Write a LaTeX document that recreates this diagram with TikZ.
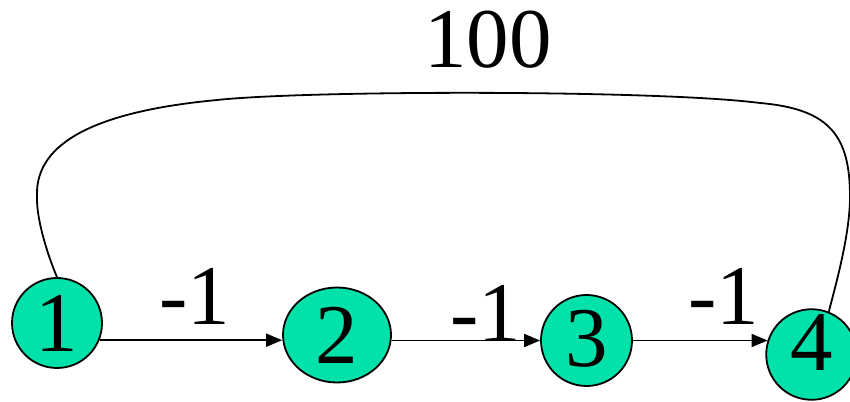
\documentclass[tikz,border=0pt]{standalone}
\usepackage{fontspec}
\setmainfont{Liberation Serif}
\usetikzlibrary{arrows.meta,shapes.geometric}
\definecolor{nodegreen}{RGB}{0,226,170}
\tikzset{
  vertex/.style={circle, draw=black, line width=1.8pt, fill=nodegreen, inner sep=0pt,
    font=\fontsize{85}{85}\selectfont},
  edge/.style={line width=1.8pt, -{Triangle[length=16pt,width=13pt]}},
  lbl/.style={anchor=base, inner sep=0pt, font=\fontsize{85}{85}\selectfont},
  bigcurve/.style={line width=1.8pt}
}
\begin{document}
\begin{tikzpicture}[x=1pt,y=1pt]
\useasboundingbox (0,0) rectangle (850,401);
\node[vertex, minimum size=90pt] (n1) at (57,78) {1};
\node[vertex, ellipse, minimum width=108pt, minimum height=95pt] (n2) at (337,66) {2};
\node[vertex, minimum size=91pt, text depth=5pt] (n3) at (586.5,60.5) {3};
\node[vertex, minimum size=87pt, text depth=24pt] (n4) at (811.5,46.5) {4};
\node[lbl] (l12) at (195,76) {-1};
\node[lbl] (l23) at (486,59) {-1};
\node[lbl] (l34) at (724,76) {-1};
\node[lbl] (l14) at (488,333) {100};
\draw[edge] (n1.-22) -- (n1.-22 -| n2.west);
\draw[edge] (n2.east |- n3.west) -- (n3.west);
\draw[edge] (n3.east) -- (n3.east -| n4.162);
\draw[bigcurve] (n1.north)
  .. controls (50,140) and (36,180) .. (37,205)
  .. controls (35,260) and (100,290) .. (217,301)
  .. controls (311,311) and (660,311) .. (760,298)
  .. controls (830,292) and (850,265) .. (850,204)
  .. controls (850,165) and (834,110) .. (n4.68);
\end{tikzpicture}
\end{document}
